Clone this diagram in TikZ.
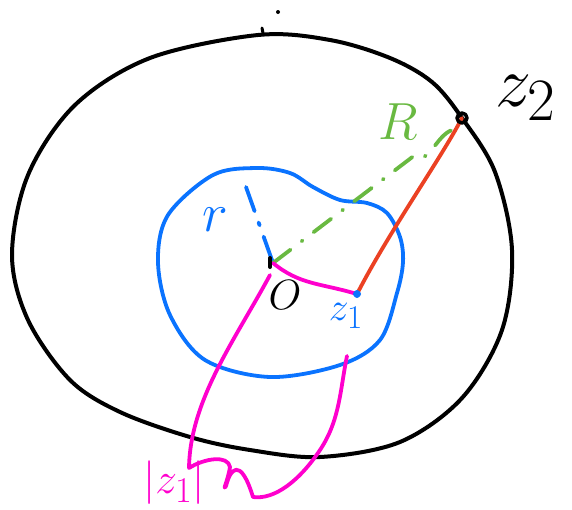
\documentclass[tikz,border=0pt]{standalone}
\usepackage{graphicx}
\newcommand{\bigtxt}[2]{\scalebox{#1}{\Huge$#2$}}
\begin{document}
\begin{tikzpicture}[x=1pt,y=-1pt,
  pen/.style={line width=3.8pt,line cap=round,line join=round},
  lbl/.style={inner sep=0pt},
]
\definecolor{skblue}{RGB}{10,115,255}
\definecolor{skgreen}{RGB}{105,185,65}
\definecolor{skred}{RGB}{235,65,35}
\definecolor{skmag}{RGB}{255,0,205}
\useasboundingbox (0,0) rectangle (572,509);
% outer circle
\draw[pen,line width=4pt] plot[smooth cycle,tension=0.55] coordinates {
 (258,35) (330,40) (390,58) (432,82) (462,118) (495,172) (512,250) (502,330)
 (462,398) (400,442) (320,457) (250,450) (190,437) (120,412) (70,380)
 (28,320) (12,255) (28,175) (75,105) (150,58)};
\fill (278,12) circle (2);
\draw[pen,line width=3pt] (262,28) -- (263,33);
% blue region
\draw[pen,skblue] plot[smooth cycle,tension=0.55] coordinates {
 (213,175) (257,168) (290,173) (313,187) (340,200) (367,203) (387,213)
 (400,237) (403,262) (397,293) (380,340) (340,365) (270,377) (205,360)
 (170,315) (158,262) (168,215)};
% points
\coordinate (O) at (273,263);
\coordinate (Z1) at (357,294);
\coordinate (Z2) at (462,118);
\coordinate (Rend) at (246,187);
% blue radius r
\draw[pen,skblue,dash pattern=on 28pt off 12pt on 3pt off 12pt] (O) -- (Rend);
% green radius R
\draw[pen,skgreen,dash pattern=on 22pt off 14pt on 1pt off 14pt] (O) -- (415,155) to[out=-40,in=-160] (452,130);
% red segment
\draw[pen,skred] (Z1) .. controls (390,230) and (440,160) .. (Z2);
% magenta |z1|
\draw[pen,skmag] (O) .. controls (300,285) and (320,283) .. (Z1);
\draw[pen,skmag] (270,275) .. controls (235,340) and (190,400) .. (189,468)
  .. controls (205,458) and (228,455) .. (230,467)
  .. controls (228,480) and (222,492) .. (226,486)
  .. controls (230,470) and (240,455) .. (253,497)
  .. controls (275,500) and (300,480) .. (320,450)
  .. controls (340,420) and (340,390) .. (347,356);
% O mark
\draw[pen,line width=4pt] (270,258) -- (270,267);
\draw[pen,skblue,line width=5pt] (Z1) circle (1.5);
\draw[pen,line width=3.5pt] (Z2) circle (5);
% labels
\node[lbl,skblue] (rl) at (215,220) {\bigtxt{2.2}{r}};
\node[lbl,skgreen] (Rl) at (398,122) {\bigtxt{2.1}{R}};
\node[lbl] (Ol) at (285,295) {\bigtxt{1.7}{O}};
\node[lbl,skblue] (z1l) at (346,316) {\bigtxt{1.6}{z_1}};
\node[lbl] (z2l) at (526,98) {\bigtxt{2.9}{z_2}};
\node[lbl,skmag] (z1abs) at (174,483) {\bigtxt{1.75}{|z_1|}};
\end{tikzpicture}
\end{document}
